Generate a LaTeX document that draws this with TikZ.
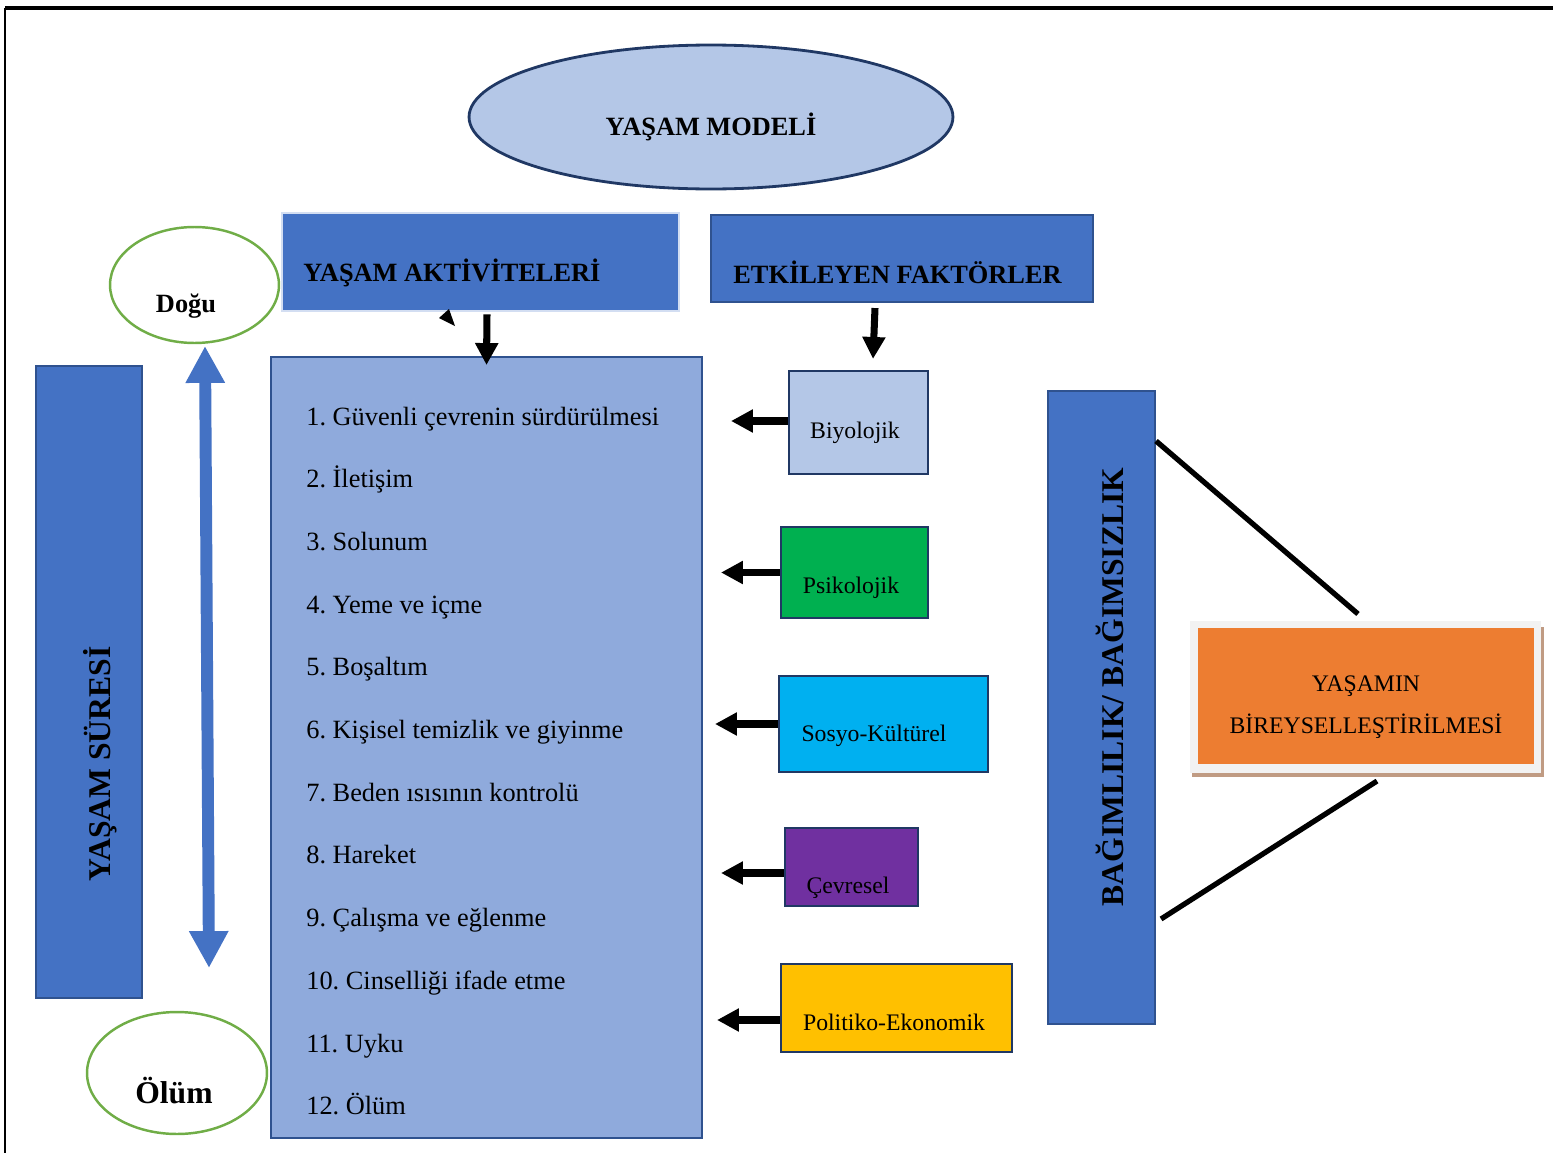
\documentclass[tikz,border=0pt]{standalone}
\usepackage{fontspec}
\setmainfont{Liberation Serif}
\usepackage{tikz}
\usetikzlibrary{arrows.meta, calc, positioning, shapes.geometric}
\usepackage{xcolor}
\definecolor{mavi}{HTML}{4472C4}
\definecolor{kenar}{HTML}{2F528F}
\definecolor{koyukenar}{HTML}{203864}
\definecolor{acikmavi}{HTML}{B4C7E7}
\definecolor{listemavi}{HTML}{8FAADC}
\definecolor{cerceve}{HTML}{D3DEF2}
\definecolor{yesil}{HTML}{70AD47}
\definecolor{turuncu}{HTML}{ED7D31}
\definecolor{golge}{HTML}{C09B83}
\definecolor{psiyesil}{HTML}{00B050}
\definecolor{sosmavi}{HTML}{00B0F0}
\definecolor{mor}{HTML}{7030A0}
\definecolor{sari}{HTML}{FFC000}

\begin{document}
\frenchspacing
\begin{tikzpicture}[x=0.02cm, y=-0.02cm,
    kutu/.style={rectangle, draw=koyukenar, line width=1.2pt, inner sep=0pt},
    baslik/.style={anchor=base west, inner sep=0pt, font=\bfseries\fontsize{15}{18}\selectfont},
    madde/.style={anchor=base west, inner sep=0pt, font=\fontsize{15}{18}\selectfont},
    etiket/.style={anchor=base, inner sep=0pt, font=\fontsize{13.5}{16}\selectfont},
    dikey/.style={anchor=base, inner sep=0pt, rotate=90, font=\bfseries\fontsize{18}{21}\selectfont},
    okSiyah/.style={line width=4pt, -{Triangle[length=12.5pt, width=12.5pt]}},
    okMavi/.style={mavi, line width=6.8pt, {Triangle[length=21pt, width=21pt]}-{Triangle[length=21pt, width=21pt]}}]

    \useasboundingbox (0,0) rectangle (1553,1153);

    % 外框
    \draw[line width=1.8pt] (1553,8) -- (5,8);
    \draw[line width=1.2pt] (5,8) -- (5,1153);

    % 模型椭圆
    \node[ellipse, draw=koyukenar, fill=acikmavi, line width=1.6pt, minimum width=9.68cm, minimum height=2.88cm, inner sep=0pt] (model) at (711,117) {};
    \node[baslik, anchor=base] (modelyazi) at (711,135) {YAŞAM MODELİ};

    % 标题框
    \node[kutu, draw=cerceve, fill=mavi, line width=1.6pt, minimum width=7.94cm, minimum height=1.96cm] (akt) at (480.5,262) {};
    \node[baslik] (aktyazi) at (303,281) {YAŞAM AKTİVİTELERİ};
    \node[kutu, draw=kenar, fill=mavi, minimum width=7.64cm, minimum height=1.74cm] (etk) at (902,258.5) {};
    \node[baslik] (etkyazi) at (733,283) {ETKİLEYEN FAKTÖRLER};

    % 出生与死亡
    \node[ellipse, draw=yesil, line width=1.4pt, minimum width=3.38cm, minimum height=2.32cm, inner sep=0pt] (dogu) at (194.5,285) {};
    \node[baslik, anchor=base] (doguyazi) at (186,312) {Doğu};
    \node[ellipse, draw=yesil, line width=1.4pt, minimum width=3.6cm, minimum height=2.44cm, inner sep=0pt] (olum) at (177,1073) {};
    \node[baslik, anchor=base, font=\bfseries\fontsize{18}{21}\selectfont] (olumyazi) at (174,1103) {Ölüm};

    % 竖框
    \node[kutu, draw=kenar, fill=mavi, minimum width=2.12cm, minimum height=12.64cm] (sure) at (89,682) {};
    \node[dikey] (sureyazi) at (110,764) {YAŞAM SÜRESİ};
    \node[kutu, draw=kenar, fill=mavi, minimum width=2.14cm, minimum height=12.66cm] (bag) at (1101.5,707.5) {};
    \node[dikey] (bagyazi) at (1123,687) {BAĞIMLILIK/ BAĞIMSIZLIK};

    % 双向箭头
    \coordinate (ust) at (205,346);
    \coordinate (alt) at (209,968);
    \draw[okMavi] (ust) -- (alt);

    % 活动列表
    \node[kutu, draw=kenar, fill=listemavi, minimum width=8.62cm, minimum height=15.62cm] (list) at (486.5,747.5) {};
    \node[madde] (m1) at (306,425) {1. Güvenli çevrenin sürdürülmesi};
    \node[madde] (m2) at (306,487.7) {2. İletişim};
    \node[madde] (m3) at (306,550.4) {3. Solunum};
    \node[madde] (m4) at (306,613.1) {4. Yeme ve içme};
    \node[madde] (m5) at (306,675.8) {5. Boşaltım};
    \node[madde] (m6) at (306,738.5) {6. Kişisel temizlik ve giyinme};
    \node[madde] (m7) at (306,801.2) {7. Beden ısısının kontrolü};
    \node[madde] (m8) at (306,863.9) {8. Hareket};
    \node[madde] (m9) at (306,926.6) {9. Çalışma ve eğlenme};
    \node[madde] (m10) at (306,989.3) {10. Cinselliği ifade etme};
    \node[madde] (m11) at (306,1052) {11. Uyku};
    \node[madde] (m12) at (306,1114.7) {12. Ölüm};

    % 影响因素
    \node[kutu, fill=acikmavi, minimum width=2.78cm, minimum height=2.06cm] (biyo) at (858.5,422.5) {};
    \node[etiket] (biyoyazi) at (855,438) {Biyolojik};
    \node[kutu, fill=psiyesil, minimum width=2.94cm, minimum height=1.82cm] (psi) at (854.5,572.5) {};
    \node[etiket] (psiyazi) at (851,593) {Psikolojik};
    \node[kutu, fill=sosmavi, minimum width=4.18cm, minimum height=1.92cm] (sos) at (883.5,724) {};
    \node[etiket] (sosyazi) at (874,741) {Sosyo-Kültürel};
    \node[kutu, fill=mor, minimum width=2.66cm, minimum height=1.56cm] (cev) at (851.5,867) {};
    \node[etiket] (cevyazi) at (848,893) {Çevresel};
    \node[kutu, fill=sari, minimum width=4.62cm, minimum height=1.76cm] (pol) at (896.5,1008) {};
    \node[etiket] (polyazi) at (894,1030) {Politiko-Ekonomik};

    % 黑色箭头
    \draw[okSiyah] ($(akt.south)+(6.5,2)$) -- ($(list.north)+(0,9)$);
    \fill (439,318) -- (449,309) -- (455,326) -- cycle;
    \draw[okSiyah] ($(etk.south)+(-27,5)$) -- ($(biyo.north)+(14.5,-11)$);
    \draw[okSiyah] ($(biyo.west)+(0,-1.5)$) -- ($(list.east |- biyo.west)+(28,-1.5)$);
    \draw[okSiyah] (psi.west) -- ($(list.east |- psi.west)+(18,0)$);
    \draw[okSiyah] (sos.west) -- ($(list.east |- sos.west)+(12,0)$);
    \draw[okSiyah] ($(cev.west)+(0,6)$) -- ($(list.east |- cev.west)+(18,6)$);
    \draw[okSiyah] ($(pol.west)+(0,12)$) -- ($(list.east |- pol.west)+(14,12)$);

    % 个体化
    \fill[golge] (1192,627) rectangle (1544,777);
    \fill[gray!10] (1189.5,621) rectangle (1541,773);
    \node[kutu, draw=none, fill=turuncu, minimum width=6.73cm, minimum height=2.72cm] (bir) at (1366,696) {};
    \node[etiket] (biryazi1) at (1366,691) {YAŞAMIN};
    \node[etiket] (biryazi2) at (1366,733) {BİREYSELLEŞTİRİLMESİ};

    % 连线
    \draw[line width=3pt] ($(bag.north east)+(0,51)$) -- ($(bir.north)+(-8,-13)$);
    \draw[line width=3pt] ($(bag.south east)+(5,-106)$) -- ($(bir.south)+(11,16)$);
\end{tikzpicture}
\end{document}
